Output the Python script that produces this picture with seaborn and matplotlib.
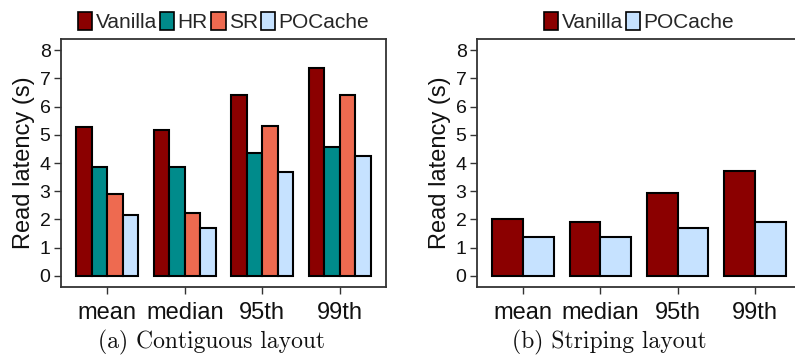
import matplotlib
matplotlib.use("Agg")
import matplotlib.pyplot as plt
import seaborn as sns
import pandas as pd

categories = ["mean", "median", "95th", "99th"]
left_series = ["Vanilla", "HR", "SR", "POCache"]
vanilla_a = [5.28, 5.18, 6.42, 7.36]
hr_a = [3.87, 3.85, 4.34, 4.58]
sr_a = [2.90, 2.21, 5.32, 6.42]
pocache_a = [2.16, 1.71, 3.67, 4.26]

right_series = ["Vanilla", "POCache"]
vanilla_b = [2.03, 1.91, 2.93, 3.72]
pocache_b = [1.39, 1.38, 1.70, 1.92]

yticks = [0, 1, 2, 3, 4, 5, 6, 7, 8]
captions = ["(a) Contiguous layout", "(b) Striping layout"]
ylabel = "Read latency (s)"

colors = {"Vanilla": "#8B0000", "HR": "#008B8B", "SR": "#EE6A50", "POCache": "#C6E2FF"}

sns.set_theme(style="white")
plt.rcParams["font.family"] = ["Liberation Sans", "DejaVu Sans"]

df_a = pd.DataFrame({
    "cat": categories * 4,
    "series": sum([[s] * 4 for s in left_series], []),
    "val": vanilla_a + hr_a + sr_a + pocache_a,
})
df_b = pd.DataFrame({
    "cat": categories * 2,
    "series": sum([[s] * 4 for s in right_series], []),
    "val": vanilla_b + pocache_b,
})

W, H = 795, 356
fig = plt.figure(figsize=(W / 100, H / 100), dpi=100)
ax1 = fig.add_axes([61 / W, 69 / H, 325 / W, 248 / H])
ax2 = fig.add_axes([477 / W, 69 / H, 324 / W, 248 / H])
caption_x = [212 / W, 609 / W]

for ax, df, series, cap, capx in [(ax1, df_a, left_series, captions[0], caption_x[0]),
                                  (ax2, df_b, right_series, captions[1], caption_x[1])]:
    sns.barplot(data=df, x="cat", y="val", hue="series", hue_order=series,
                palette=[colors[s] for s in series], order=categories,
                width=0.8, edgecolor="black", linewidth=1.5, saturation=1,
                ax=ax, legend=True)
    ax.set_xlim(-0.6, 3.6)
    ax.set_ylim(-0.4, 8.4)
    ax.set_yticks(yticks)
    ax.set_yticklabels([str(t) for t in yticks], fontsize=14)
    ax.tick_params(axis="x", labelsize=17, length=5, width=1, color="#333333", pad=6)
    ax.tick_params(axis="y", length=5, width=1, color="#333333", pad=2.5)
    ax.tick_params(axis="both", direction="out", bottom=True, left=True, labelcolor="#111111")
    ax.set_xlabel("")
    ax.set_ylabel(ylabel, fontsize=17, labelpad=3, color="#111111")
    for sp in ax.spines.values():
        sp.set_color("#333333")
        sp.set_linewidth(1.3)
    ax.legend_.remove()
    handles = [plt.Rectangle((0, 0), 1, 1, facecolor=colors[s], edgecolor="black", linewidth=1.2) for s in series]
    ax.legend(handles, series, loc="lower center", bbox_to_anchor=(0.5, 1.015),
              ncol=len(series), frameon=False, fontsize=15,
              handlelength=0.7, handleheight=1.0, handletextpad=0.15,
              columnspacing=0.15, borderaxespad=0.1, borderpad=0.05)
    fig.text(capx, 1 - 342 / H, cap, ha="center", va="center",
             fontsize=17, family="cmr10", color="#111111")

fig.savefig("out.png", dpi=100)
